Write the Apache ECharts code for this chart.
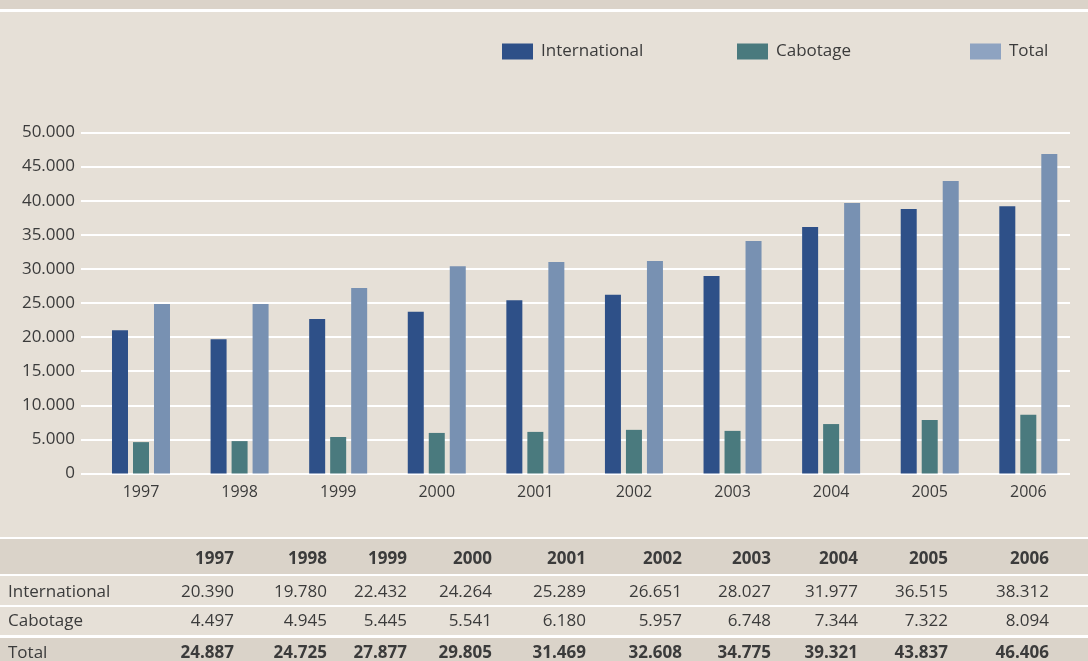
<!DOCTYPE html>
<html>
<head>
<meta charset="utf-8">
<script src="https://cdn.jsdelivr.net/npm/echarts@6/dist/echarts.min.js"></script>
<style>
  html, body { margin: 0; padding: 0; background: #e6e0d7; }
  #chart { width: 1088px; height: 661px; }
</style>
</head>
<body>
<div id="chart"></div>
<script>
// bar heights as drawn in the chart
var years = ['1997', '1998', '1999', '2000', '2001', '2002', '2003', '2004', '2005', '2006'];
var barInternational = [21000, 19700, 22650, 23700, 25400, 26200, 28950, 36150, 38800, 39200];
var barCabotage = [4600, 4750, 5350, 5950, 6100, 6400, 6250, 7250, 7850, 8600];
var barTotal = [24850, 24850, 27200, 30400, 31000, 31150, 34100, 39650, 42900, 46850];

// values printed in the table below the chart
var tableInternational = [20390, 19780, 22432, 24264, 25289, 26651, 28027, 31977, 36515, 38312];
var tableCabotage = [4497, 4945, 5445, 5541, 6180, 5957, 6748, 7344, 7322, 8094];
var tableTotal = [24887, 24725, 27877, 29805, 31469, 32608, 34775, 39321, 43837, 46406];

var FONT = '"Open Sans", "Noto Sans", sans-serif';
var TXT = '#3b3b3b';

function fmt(v) {
  var s = String(Math.round(v));
  return s.replace(/\B(?=(\d{3})+(?!\d))/g, '.');
}

// table layout
var colRight = [234, 327, 407, 492, 586, 682, 771, 858, 948, 1049];
var rows = [
  { label: '', values: years, y: 559, bold: true, isHeader: true },
  { label: 'International', values: tableInternational, y: 592, bold: false },
  { label: 'Cabotage', values: tableCabotage, y: 621, bold: false },
  { label: 'Total', values: tableTotal, y: 653, bold: true }
];

var graphics = [
  { type: 'rect', shape: { x: 0, y: 0, width: 1088, height: 9 }, style: { fill: '#dbd3c9' }, silent: true },
  { type: 'rect', shape: { x: 0, y: 9, width: 1088, height: 3 }, style: { fill: '#ffffff' }, silent: true },
  { type: 'rect', shape: { x: 0, y: 537, width: 1088, height: 2 }, style: { fill: '#ffffff' }, silent: true },
  { type: 'rect', shape: { x: 0, y: 539, width: 1088, height: 35 }, style: { fill: '#dad3c9' }, silent: true },
  { type: 'rect', shape: { x: 0, y: 574, width: 1088, height: 2 }, style: { fill: '#ffffff' }, silent: true },
  { type: 'rect', shape: { x: 0, y: 605, width: 1088, height: 2 }, style: { fill: '#ffffff' }, silent: true },
  { type: 'rect', shape: { x: 0, y: 635, width: 1088, height: 3 }, style: { fill: '#ffffff' }, silent: true },
  { type: 'rect', shape: { x: 0, y: 638, width: 1088, height: 23 }, style: { fill: '#dad3c9' }, silent: true }
];

rows.forEach(function(r) {
  if (r.label) {
    graphics.push({
      type: 'text', x: 8, y: r.y, silent: true,
      style: { text: r.label, font: '17px ' + FONT, fill: TXT, textAlign: 'left', textVerticalAlign: 'middle' }
    });
  }
  r.values.forEach(function(v, i) {
    graphics.push({
      type: 'text', x: colRight[i], y: r.y, silent: true,
      style: {
        text: r.isHeader ? v : fmt(v),
        font: (r.bold ? 'bold ' : '') + '17px ' + FONT,
        fill: TXT, textAlign: 'right', textVerticalAlign: 'middle'
      }
    });
  });
});

function legendAt(name, left, color) {
  return {
    data: [{ name: name, itemStyle: { color: color } }],
    left: left, top: 38, icon: 'rect', itemWidth: 31, itemHeight: 16,
    textStyle: { fontFamily: FONT, fontSize: 17, color: TXT, padding: [0, 0, 0, 3] }
  };
}

var chart = echarts.init(document.getElementById('chart'));
chart.setOption({
  backgroundColor: '#e6e0d7',
  animation: false,
  legend: [
    legendAt('International', 497, '#2e5088'),
    legendAt('Cabotage', 732, '#4a7a7e'),
    legendAt('Total', 965, '#8ea3c1')
  ],
  grid: [
    { left: 81, right: 18, top: 132.5, bottom: 187.5 },
    { left: 91.7, right: 10.4, top: 132.5, bottom: 187.5 }
  ],
  xAxis: [
    { type: 'category', gridIndex: 0, data: years, show: false },
    {
      type: 'category', gridIndex: 1, data: years,
      axisLine: { show: false }, axisTick: { show: false },
      axisLabel: { fontFamily: FONT, fontSize: 16, color: TXT, margin: 11 }
    }
  ],
  yAxis: [
    {
      type: 'value', gridIndex: 0, min: 0, max: 50000, interval: 5000,
      axisLine: { show: false }, axisTick: { show: false },
      axisLabel: { fontFamily: FONT, fontSize: 17, color: TXT, margin: 6, formatter: fmt },
      splitLine: { lineStyle: { color: '#ffffff', width: 2 } }
    },
    {
      type: 'value', gridIndex: 1, min: 0, max: 50000, interval: 5000, show: false,
      splitLine: { show: false }
    }
  ],
  graphic: graphics,
  series: [
    { name: 'International', type: 'bar', xAxisIndex: 1, yAxisIndex: 1, data: barInternational,
      barWidth: 16, barGap: '31.25%', itemStyle: { color: '#2e5088' } },
    { name: 'Cabotage', type: 'bar', xAxisIndex: 1, yAxisIndex: 1, data: barCabotage,
      barWidth: 16, barGap: '31.25%', itemStyle: { color: '#4a7a7e' } },
    { name: 'Total', type: 'bar', xAxisIndex: 1, yAxisIndex: 1, data: barTotal,
      barWidth: 16, barGap: '31.25%', itemStyle: { color: '#7891b2' } }
  ]
});
</script>
</body>
</html>
